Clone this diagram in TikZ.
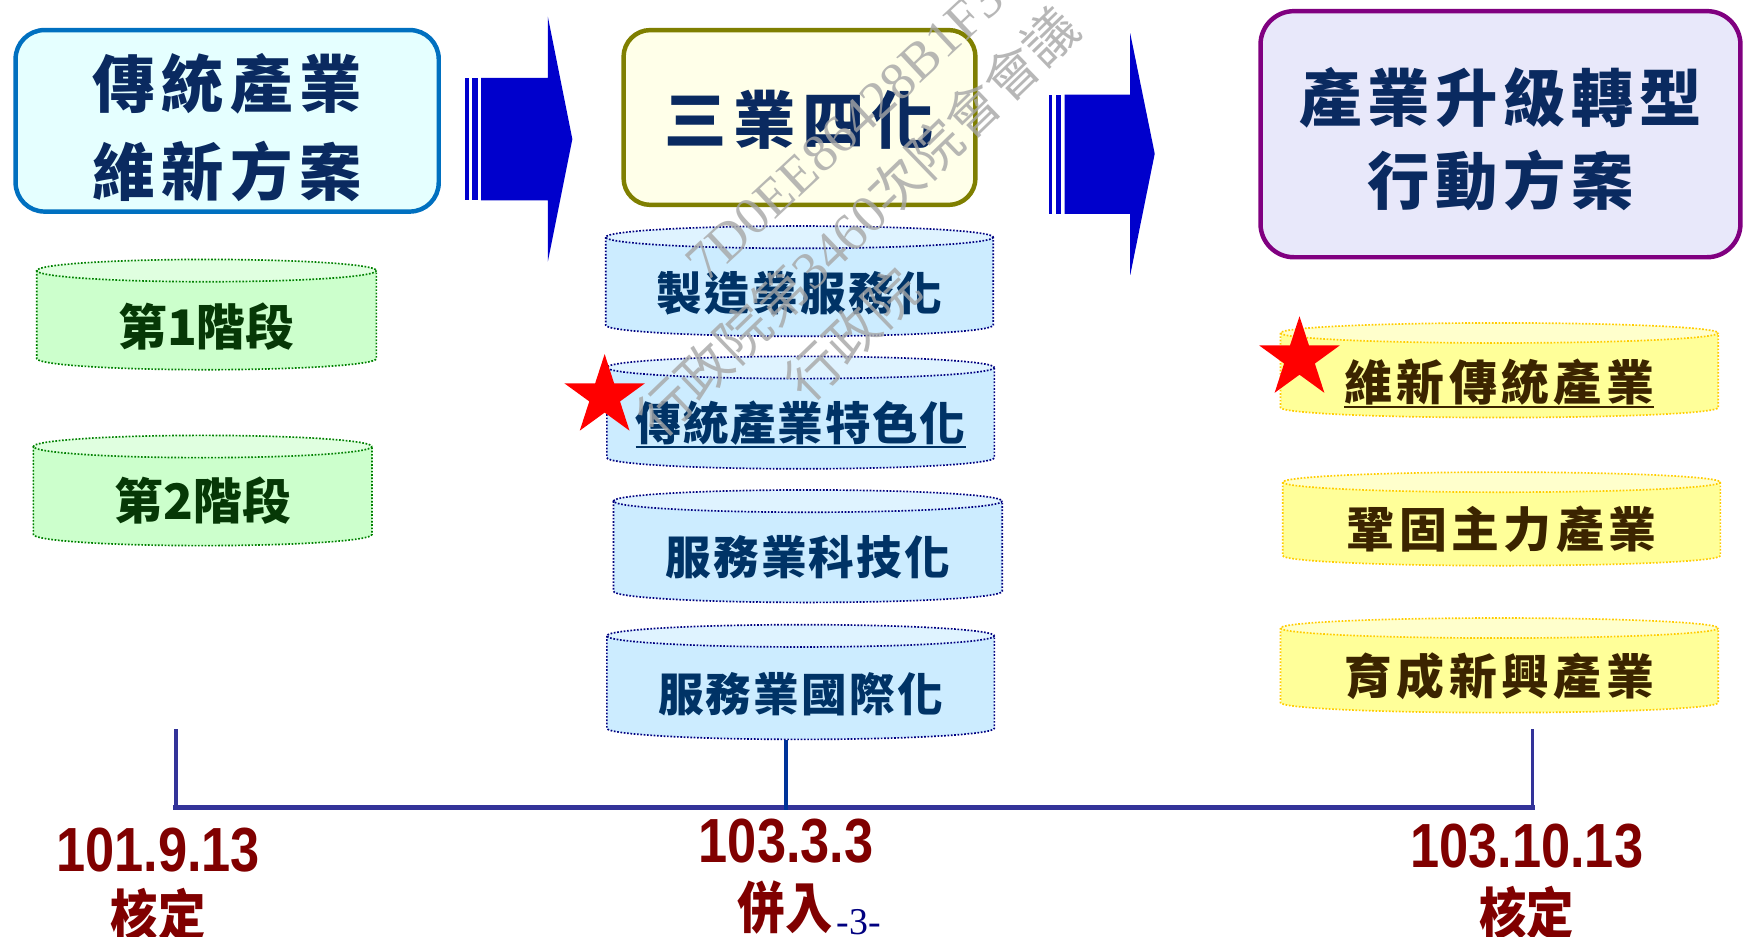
\documentclass[tikz,border=0pt]{standalone}
\usepackage{fontspec}
\usetikzlibrary{shapes.geometric}
\newfontfamily\cjk{Noto Sans CJK TC}
\newfontfamily\datefont{Liberation Sans}
\newfontfamily\wmfont{Liberation Serif}
\definecolor{hdtext}{HTML}{0A2A60}
\definecolor{h1line}{HTML}{0070C0}
\definecolor{h1fill}{HTML}{E5FFFF}
\definecolor{h2line}{HTML}{7F7F00}
\definecolor{h2fill}{HTML}{FFFFE9}
\definecolor{h3line}{HTML}{800080}
\definecolor{h3fill}{HTML}{E8E8FA}
\definecolor{arrowblue}{HTML}{0000CC}
\definecolor{bodyG}{HTML}{CCFFCC}
\definecolor{topG}{HTML}{E0FFE0}
\definecolor{lineG}{HTML}{008000}
\definecolor{textG}{HTML}{063806}
\definecolor{bodyB}{HTML}{CCECFF}
\definecolor{topB}{HTML}{DFF3FF}
\definecolor{lineB}{HTML}{000080}
\definecolor{textB}{HTML}{003366}
\definecolor{bodyY}{HTML}{FFFF99}
\definecolor{topY}{HTML}{FFFFCC}
\definecolor{lineY}{HTML}{FFCC00}
\definecolor{textY}{HTML}{3B2400}
\definecolor{tline}{HTML}{333399}
\definecolor{midline}{HTML}{003399}
\definecolor{datered}{HTML}{800000}
\definecolor{pagenavy}{HTML}{000080}
\definecolor{wmgray}{HTML}{A6A6A6}
\def\lspx#1{\ifx#1\relax\unkern\else#1\kern\lspamt\expandafter\lspx\fi}
\newcommand\lsp[2]{\def\lspamt{#2}\lspx#1\relax}
\tikzset{
  hbox/.style={rounded corners=26pt, line width=4pt, inner sep=0pt},
  htext/.style={text=hdtext, align=center, inner sep=0pt},
  cylline/.style={line width=1.5pt, dash pattern=on 1.5pt off 1.5pt},
  cyltextG/.style={text=textG, inner sep=0pt, font=\fontsize{44}{48}\selectfont\cjk\bfseries},
  cyltextB/.style={text=textB, inner sep=0pt, font=\fontsize{41}{45}\selectfont\cjk\bfseries},
  cyltextY/.style={text=textY, inner sep=0pt, font=\fontsize{43}{47}\selectfont\cjk\bfseries},
  redstar/.style={star, star points=5, star point ratio=2.618, fill=red, draw=none, minimum size=76pt, inner sep=0pt},
  tlv/.style={draw=tline, line width=3pt},
  tlh/.style={draw=tline, line width=5pt, line cap=rect},
  midv/.style={draw=midline, line width=3pt},
  datestyle/.style={text=datered, inner sep=0pt, font=\fontsize{56}{60}\selectfont\datefont\bfseries},
  cnlabel/.style={text=datered, inner sep=0pt, font=\fontsize{50}{54}\selectfont\cjk\bfseries},
  pagenum/.style={text=pagenavy, inner sep=0pt, font=\fontsize{34}{38}\selectfont\wmfont},
  wmtext/.style={text=wmgray, text opacity=0.8, inner sep=0pt, anchor=west, font=\fontsize{48}{52}\selectfont},
}
\newcommand\cyl[9]{%
  \pgfmathsetmacro\cylrx{(#3-#2)/2}%
  \pgfmathsetmacro\cylcx{(#3+#2)/2}%
  \pgfmathsetmacro\cylcy{(#4+#5)/2}%
  \pgfmathsetmacro\cylw{#3-#2}%
  \pgfmathsetmacro\cylh{#5-#4+2*#6}%
  \fill[fill=body#7] (#2,#4) rectangle (#3,#5);
  \fill[fill=body#7] (\cylcx,#5) ellipse[x radius=\cylrx, y radius=#6];
  \fill[fill=top#7] (\cylcx,#4) ellipse[x radius=\cylrx, y radius=#6];
  \draw[cylline, draw=line#7] (\cylcx,#4) ellipse[x radius=\cylrx, y radius=#6];
  \draw[cylline, draw=line#7] (#2,#4) -- (#2,#5) arc[start angle=180, end angle=0, x radius=\cylrx, y radius=#6] -- (#3,#4);
  \node[inner sep=0pt, minimum width=\cylw pt, minimum height=\cylh pt] (#1c) at (\cylcx,\cylcy) {};
  \node[cyltext#7] (#1) at (\cylcx,#8) {#9};
}
\begin{document}
\begin{tikzpicture}[x=1pt, y=-1pt]
\useasboundingbox[fill=white] (0,0) rectangle (1568,841);

% header boxes
\node[hbox, draw=h1line, fill=h1fill, minimum width=380pt, minimum height=163pt] (h1) at (204,108.5) {};
\node[htext, font=\fontsize{56}{79}\selectfont\cjk\bfseries] (h1t) at (204,114.5) {\lsp{傳統產業}{6pt}\\\lsp{維新方案}{6pt}};
\node[hbox, rounded corners=24pt, draw=h2line, fill=h2fill, minimum width=316pt, minimum height=157pt] (h2) at (718,105.5) {};
\node[htext, font=\fontsize{56}{60}\selectfont\cjk\bfseries] (h2t) at (718,108) {\lsp{三業四化}{6pt}};
\node[hbox, rounded corners=30pt, draw=h3line, fill=h3fill, minimum width=431pt, minimum height=221pt] (h3) at (1347.5,120.5) {};
\node[htext, font=\fontsize{56}{74}\selectfont\cjk\bfseries] (h3t) at (1347.5,125) {\lsp{產業升級轉型}{5pt}\\\lsp{行動方案}{5pt}};

% block arrows
\fill[arrowblue] (418,70) rectangle (421,180);
\fill[arrowblue] (424,70) rectangle (429,180);
\fill[arrowblue] (432,70) -- (492,70) -- (492,15) -- (514,125) -- (492,235) -- (492,180) -- (432,180) -- cycle;
\fill[arrowblue] (942,85) rectangle (945,192);
\fill[arrowblue] (948,85) rectangle (953,192);
\fill[arrowblue] (956,85) -- (1015,85) -- (1015,30) -- (1037,138) -- (1015,247) -- (1015,192) -- (956,192) -- cycle;

% green cylinders
\cyl{g1}{33}{338}{243}{322}{10}{G}{293}{第1階段}
\cyl{g2}{30}{334}{401}{480}{10}{G}{450}{第2階段}

% blue cylinders
\cyl{b1}{544}{892}{213}{292}{10}{B}{263}{\lsp{製造業服務化}{2pt}}
\cyl{b2}{545}{893}{330}{411}{10}{B}{380}{\lsp{傳統產業特色化}{1.5pt}}
\cyl{b3}{551}{900}{450}{531}{10}{B}{500}{\lsp{服務業科技化}{2pt}}
\cyl{b4}{545}{893}{571}{654}{10}{B}{623}{\lsp{服務業國際化}{2pt}}
\draw[line width=2pt, draw=textB] ([yshift=-1pt]b2.south west) -- ([yshift=-1pt]b2.south east);

% yellow cylinders
\cyl{y1}{1150}{1543}{299}{366}{9}{Y}{343}{\lsp{維新傳統產業}{4pt}}
\cyl{y2}{1152}{1545}{433}{499}{9}{Y}{475}{\lsp{鞏固主力產業}{4pt}}
\cyl{y3}{1150}{1543}{564}{631}{9}{Y}{607}{\lsp{育成新興產業}{4pt}}
\draw[line width=2pt, draw=textY] ([yshift=-1pt]y1.south west) -- ([yshift=-1pt]y1.south east);

% stars
\node[redstar] (star1) at (543,356) {};
\node[redstar] (star2) at (1167,322) {};

% dates
\node[datestyle] (d1) at (142,763) {\scalebox{0.84}[1]{101.9.13}};
\node[datestyle] (d2) at (706,755) {\scalebox{0.84}[1]{103.3.3}};
\node[datestyle] (d3) at (1371,760) {\scalebox{0.84}[1]{103.10.13}};
\node[cnlabel] (k1) at (142,822) {\scalebox{0.85}[1]{核定}};
\node[cnlabel] (k2) at (705,815) {\scalebox{0.85}[1]{併入}};
\node[cnlabel] (k3) at (1371,820) {\scalebox{0.85}[1]{核定}};
\node[pagenum] (pg) at (771,828) {-3-};

% timeline
\coordinate (tlL) at (158,655);
\coordinate (tlR) at (1376,655);
\coordinate (baseL) at (158,725);
\coordinate (baseR) at (1376,725);
\draw[tlv] (tlL) -- (baseL);
\draw[tlv] (tlR) -- (baseR);
\draw[tlh] (baseL) -- (baseR);
\draw[midv] (b4c.south -| d2.center) -- ([yshift=-2pt]d2.center |- baseL);

% watermark
\begin{scope}
\clip (0,0) rectangle (1568,841);
\node[wmtext, rotate=43] (wm1) at (624,243) {\wmfont 7D0EE86428B1F3};
\node[wmtext, rotate=44] (wm2) at (580,383) {\cjk 行政院第{\wmfont 3460}次院會會議};
\node[wmtext, rotate=44] (wm3) at (713,350) {\cjk 行政院};
\end{scope}
\end{tikzpicture}
\end{document}
